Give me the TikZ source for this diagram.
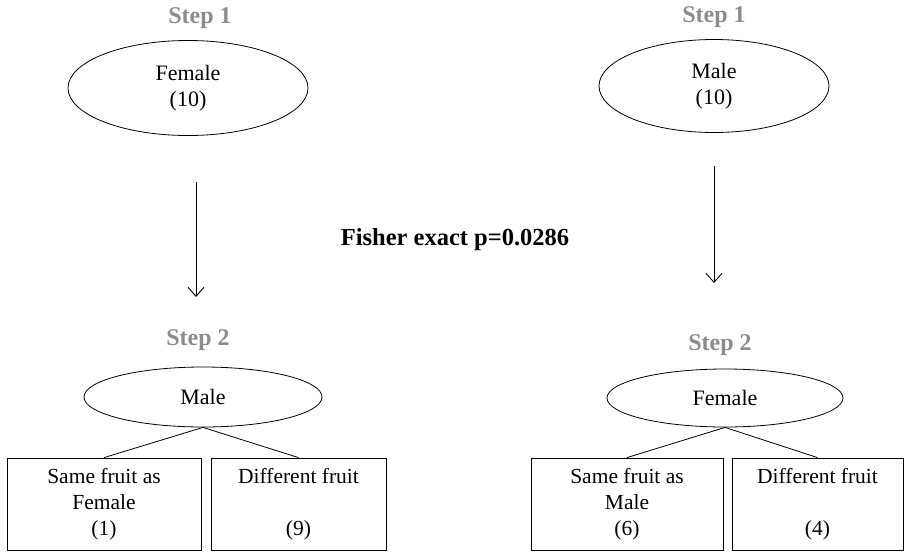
\documentclass[tikz,border=0pt]{standalone}
\usepackage{fontspec}
\setmainfont{Liberation Serif}
\usetikzlibrary{arrows.meta,shapes.geometric}
\definecolor{StepGray}{HTML}{8C8C8C}

\begin{document}
\begin{tikzpicture}[x=1pt,y=-1pt,
  oval/.style={draw,ellipse,line width=.8pt,inner sep=0pt,align=center,
    font=\fontsize{22}{26}\selectfont},
  fruitbox/.style={draw,rectangle,line width=.8pt,inner sep=0pt,align=center,
    minimum height=92pt,font=\fontsize{21.5}{26}\selectfont},
  steplabel/.style={text=StepGray,font=\fontsize{24}{28}\selectfont\bfseries},
  arr/.style={line width=.9pt,-{Straight Barb[length=9pt,width=16pt]}}]
  \useasboundingbox (0,0) rectangle (907,552);
  % step 1
  \node[steplabel] (st1f) at (200,18) {Step 1};
  \node[oval,minimum width=240pt,minimum height=95pt] (fem1) at (188,88) {Female\\(10)};
  \node[steplabel] (st1m) at (714,17) {Step 1};
  \node[oval,minimum width=230pt,minimum height=93pt] (mal1) at (714,86) {Male\\(10)};
  % arrows
  \coordinate (fa) at (196,182);
  \coordinate (fb) at (196,297);
  \coordinate (ma) at (714,166);
  \coordinate (mb) at (714,283);
  \draw[arr] (fa) -- (fb);
  \draw[arr] (ma) -- (mb);
  \node[font=\fontsize{24.5}{28}\selectfont\bfseries] (fisher) at (455,240) {Fisher exact p=0.0286};
  % step 2
  \node[steplabel] (st2l) at (198,340) {Step 2};
  \node[oval,minimum width=238pt,minimum height=60pt] (mal2) at (203,397) {Male};
  \node[steplabel] (st2r) at (720,345) {Step 2};
  \node[oval,minimum width=236pt,minimum height=58pt] (fem2) at (725,398) {Female};
  \node[fruitbox,minimum width=194pt] (samel) at (104,504) {Same fruit as\\Female\\(1)};
  \node[fruitbox,minimum width=175pt] (diffl) at (298.5,504) {Different fruit\\~\\(9)};
  \node[fruitbox,minimum width=192pt] (samer) at (627,504) {Same fruit as\\Male\\(6)};
  \node[fruitbox,minimum width=171pt] (diffr) at (817.5,504) {Different fruit\\~\\(4)};
  \draw[line width=.8pt] (mal2.south) -- (samel.north);
  \draw[line width=.8pt] (mal2.south) -- (diffl.north);
  \draw[line width=.8pt] (fem2.south) -- (samer.north);
  \draw[line width=.8pt] (fem2.south) -- (diffr.north);
\end{tikzpicture}
\end{document}
